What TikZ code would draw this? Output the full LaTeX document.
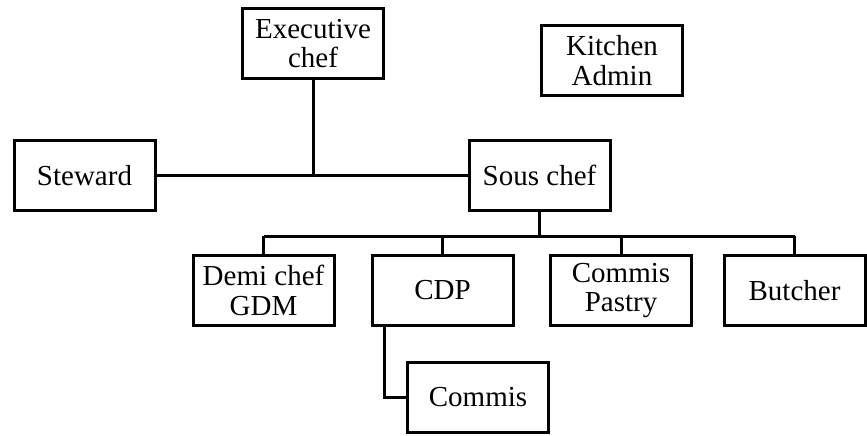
\documentclass[tikz,border=0pt]{standalone}
\usepackage{fontspec}
\setmainfont{Liberation Serif}
\usepackage{tikz}

\begin{document}
\begin{tikzpicture}[x=0.5pt,y=-0.5pt,-]
                \tikzstyle{post}=[rectangle,draw=black,line width=1.5pt,fill=white,minimum width=70.5pt,minimum height=35pt,inner sep=0pt,align=center,font=\fontsize{14.5}{14.8}\selectfont]
                \tikzstyle{link}=[line width=1.5pt]
                \useasboundingbox (0,0) rectangle (867,435);

                \node[post] (exec) at (313,43.5) {Executive\\chef};
                \node[post] (admin) at (612,60.5) {Kitchen\\Admin};
                \node[post] (steward) at (84.5,175.5) {Steward};
                \node[post] (sous) at (539.5,175.5) {Sous chef};
                \foreach \name/\x/\txt in {demi/263.5/{Demi chef\\GDM}, cdp/442.5/{CDP}, pastry/621/{Commis\\Pastry}, butcher/794.5/{Butcher}}
                        \node[post] (\name) at (\x,290.5) {\txt};
                \node[post] (commis) at (478,397.5) {Commis};
                \coordinate (bus) at (0,236);

                    \draw[link] (steward) -- (sous);
                    \draw[link] (exec.south) -- (exec.south |- steward.east);
                    \draw[link] (sous.south) -- (sous.south |- bus);
                    \draw[link] (demi.north |- bus) -- (butcher.north |- bus);
                    \foreach \name in {demi, cdp, pastry, butcher}
                        \draw[link] (\name.north) -- (\name.north |- bus);
                    \draw[link] ([xshift=7pt]cdp.south west) |- (commis.west);
            \end{tikzpicture}
\end{document}
